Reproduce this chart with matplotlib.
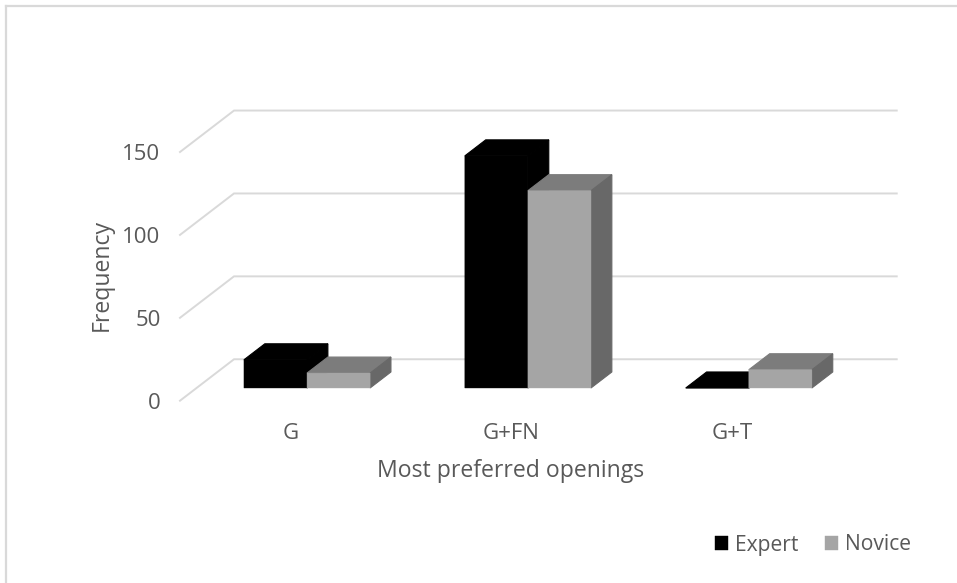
import numpy as np
import matplotlib.pyplot as plt
from matplotlib.lines import Line2D
from matplotlib.transforms import ScaledTranslation

plt.rcParams['font.family'] = ['Open Sans', 'DejaVu Sans']

# ----------------------------------------------------
# Data
# ----------------------------------------------------
openings = ["G", "G+FN", "G+T"]
expert = [17, 140, 0]
novice = [9, 119, 11]
value_ticks = [0, 50, 100, 150]

# ----------------------------------------------------
# 3D look: a depth of 1 moves a point back and up the floor
# ----------------------------------------------------
depth_x = 0.2445
depth_v = 25.0
bar_near = 0.307
bar_far = 0.693
gap = 0.2145
bar_w = 0.2855

text_col = "#595959"
grid_col = "#D9D9D9"


def project(x, v, d):
    return x + d * depth_x, v + d * depth_v


def draw_box(ax, left, value, front, top, side, label=None):
    # front face goes through bar() so it picks up the legend label
    right = left + bar_w
    corners = [project(left, value, bar_near), project(right, value, bar_near),
               project(right, value, bar_far), project(left, value, bar_far)]
    ax.fill(*zip(*corners), facecolor=top, edgecolor=top, linewidth=0.8, zorder=3)
    corners = [project(right, 0, bar_near), project(right, 0, bar_far),
               project(right, value, bar_far), project(right, value, bar_near)]
    ax.fill(*zip(*corners), facecolor=side, edgecolor=side, linewidth=0.8, zorder=3)
    fx, base = project(left, 0, bar_near)
    bars = ax.bar(fx, value, bottom=base, width=bar_w, align="edge", color=front,
                  edgecolor=front, linewidth=0.3, zorder=3, label=label)
    bars[0].set_snap(False)


fig = plt.figure(figsize=(9.57, 5.83), dpi=100)
ax = fig.add_axes([180 / 957, (583 - 400.7) / 583, 662.7 / 957, 248.7 / 583])
ax.set_xlim(0, len(openings))
ax.set_ylim(0, 150)
ax.patch.set_visible(False)
for s in ax.spines.values():
    s.set_visible(False)

# Back wall grid and the diagonals on the side wall
for v in value_ticks:
    x0, y0 = project(0, v, 0)
    x1, y1 = project(0, v, 1)
    x2, y2 = project(len(openings), v, 1)
    ax.plot([x0, x1, x2], [y0, y1, y2], color=grid_col, lw=1.4,
            clip_on=False, zorder=1, solid_joinstyle="miter")

# Bars
for i in range(len(openings)):
    left = i + gap
    draw_box(ax, left, expert[i], "black", "black", "black",
             label="Expert" if i == 0 else None)
    draw_box(ax, left + bar_w, novice[i], "#A5A5A5", "#7C7C7C", "#686868",
             label="Novice" if i == 0 else None)
for art in ax.patches + ax.collections:
    art.set_clip_on(False)

ax.set_xticks(np.arange(len(openings)) + 0.5)
ax.set_xticklabels(openings)
ax.set_yticks(value_ticks)
ax.tick_params(axis="both", length=0, labelsize=16, labelcolor=text_col)
ax.tick_params(axis="x", pad=16)
ax.tick_params(axis="y", pad=14)
nudge = ScaledTranslation(0, -2.5 / 100, fig.dpi_scale_trans)
for lab in ax.get_yticklabels():
    lab.set_verticalalignment("center")
    lab.set_transform(lab.get_transform() + nudge)

fig.text(511 / 957, 1 - 471 / 583, "Most preferred openings", fontsize=16.6,
         color=text_col, ha="center", va="center")
fig.text(102 / 957, 1 - 275 / 583, "Frequency", fontsize=16.6, color=text_col,
         ha="center", va="center", rotation=90)

ax.legend(loc="center right", bbox_to_anchor=(911 / 957, 1 - 545 / 583),
          bbox_transform=fig.transFigure, ncol=2, frameon=False, fontsize=15.2,
          labelcolor=text_col, handlelength=0.6, handleheight=0.6,
          handletextpad=0.33, columnspacing=1.3, borderpad=0, borderaxespad=0)

# Chart frame, running off the top and left of the canvas edge
fig.add_artist(Line2D([6 / 957, 6 / 957], [0, 1 - 5.5 / 583], color=grid_col, lw=1.6))
fig.add_artist(Line2D([6 / 957, 1], [1 - 5.5 / 583, 1 - 5.5 / 583], color=grid_col, lw=1.6))

fig.savefig("out.png", dpi=100)
